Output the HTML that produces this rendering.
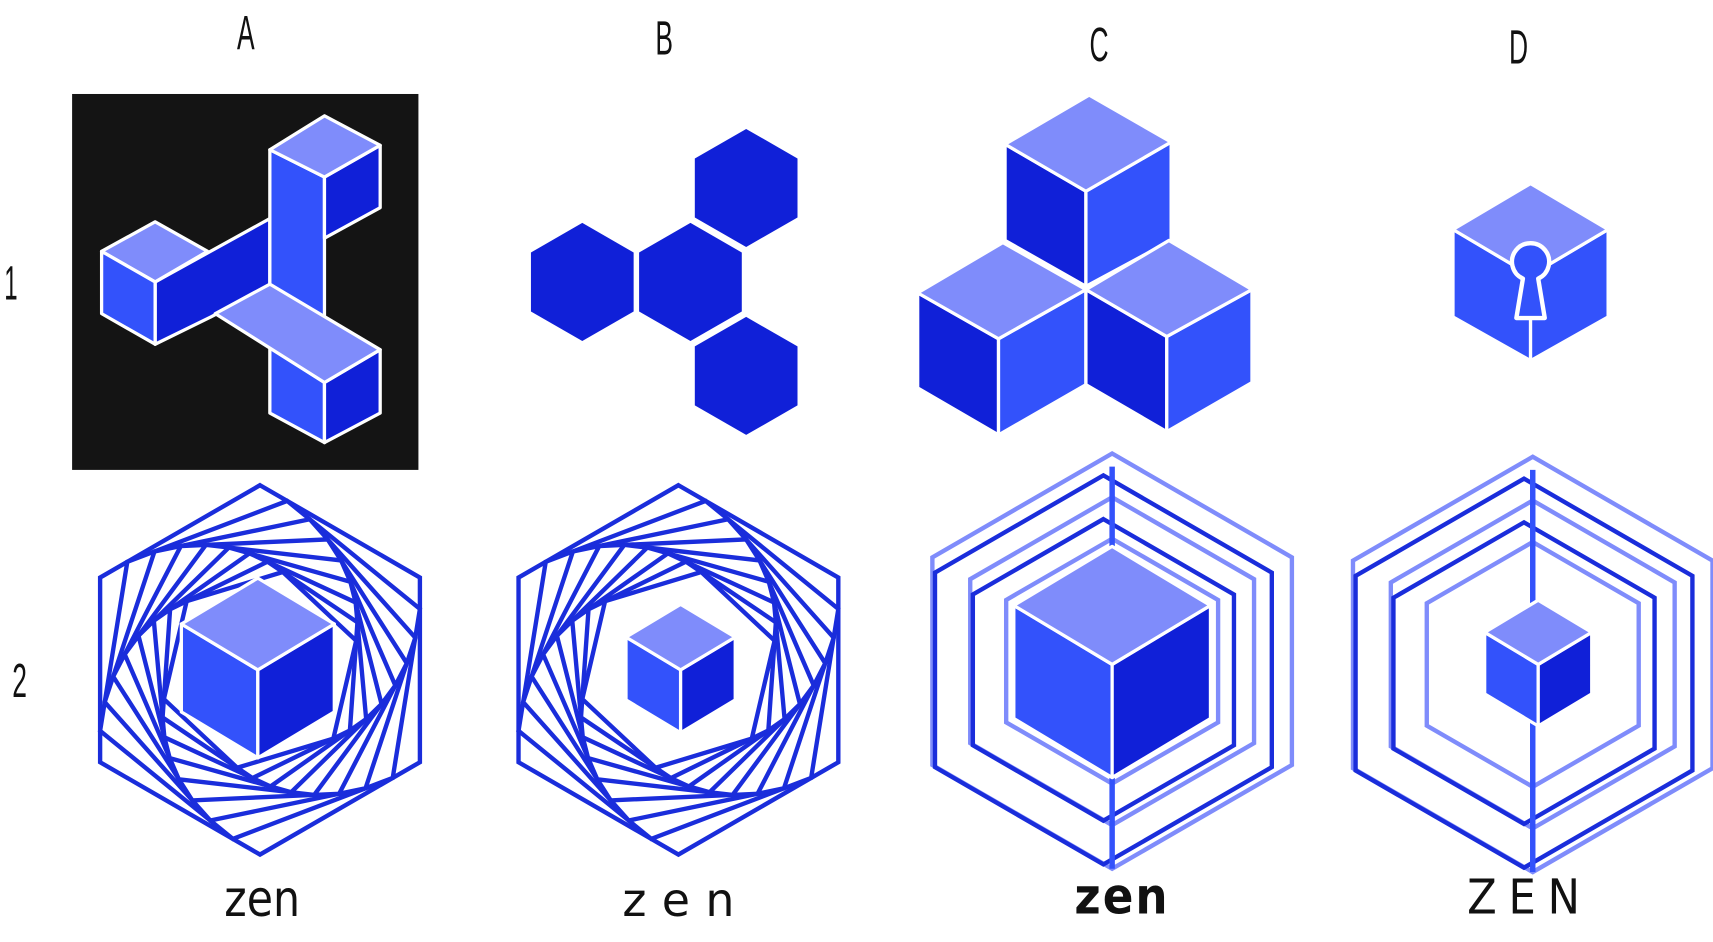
<!DOCTYPE html>
<html><head><meta charset="utf-8"><style>
html,body{margin:0;padding:0;background:#fff;width:1713px;height:942px;overflow:hidden}
svg{display:block}
.lbl{font-family:"Liberation Sans",sans-serif;font-size:44px;fill:#111}
.zen{font-family:"DejaVu Sans","Liberation Sans",sans-serif;fill:#111}
</style></head><body>
<svg id="s" width="1713" height="942" viewBox="0 0 1568 862" preserveAspectRatio="none">
<g>
<text class="lbl" x="225" y="45" text-anchor="middle" transform="translate(225 0) scale(0.55 1) translate(-225 0)">A</text>
<text class="lbl" x="608" y="50" text-anchor="middle" transform="translate(608 0) scale(0.55 1) translate(-608 0)">B</text>
<text class="lbl" x="1006" y="56" text-anchor="middle" transform="translate(1006 0) scale(0.55 1) translate(-1006 0)">C</text>
<text class="lbl" x="1390" y="58" text-anchor="middle" transform="translate(1390 0) scale(0.55 1) translate(-1390 0)">D</text>
<text class="lbl" x="10" y="274" text-anchor="middle" transform="translate(10 0) scale(0.5 1) translate(-10 0)">1</text>
<text class="lbl" x="18" y="638" text-anchor="middle" transform="translate(18 0) scale(0.55 1) translate(-18 0)">2</text>
</g>
<g stroke="#fff" stroke-width="3" stroke-linejoin="round">
<rect x="66" y="86" width="317" height="344" fill="#141414" stroke="none"/>
<polygon points="142,258 247,200 247,262 193,290 142,315" fill="#1020d8"/>
<polygon points="93,230 142,203 190,230 142,258" fill="#7f8cfb"/>
<polygon points="93,230 142,258 142,315 93,287" fill="#3352fb"/>
<polygon points="247,137 297,162 297,290 247,262" fill="#3352fb"/>
<polygon points="297,162 348,133 348,190 297,218" fill="#1020d8"/>
<polygon points="247,137 297,106 348,133 297,162" fill="#7f8cfb"/>
<polygon points="247,318 297,350 297,405 247,378" fill="#3352fb"/>
<polygon points="297,350 348,320 348,378 297,405" fill="#1020d8"/>
<polygon points="197,287 247,260 348,320 297,350" fill="#7f8cfb"/>
</g>
<g fill="#1020d8">
<polygon points="533,204 580,231 580,285 533,312 486,285 486,231"/>
<polygon points="632,204 679,231 679,285 632,312 585,285 585,231"/>
<polygon points="683,118 730,145 730,199 683,226 636,199 636,145"/>
<polygon points="683,290 730,317 730,371 683,398 636,371 636,317"/>
</g>
<g stroke="#fff" stroke-width="3" stroke-linejoin="round">
<polygon points="920,132 994,175 994,262 920,220" fill="#1020d8"/>
<polygon points="994,175 1072,130 1072,220 994,262" fill="#3352fb"/>
<polygon points="920,132 997,87 1072,130 994,175" fill="#7f8cfb"/>
<polygon points="840,268 914,310 914,398 840,355" fill="#1020d8"/>
<polygon points="914,310 994,265 994,352 914,398" fill="#3352fb"/>
<polygon points="840,268 918,222 994,265 914,310" fill="#7f8cfb"/>
<polygon points="994,265 1068,308 1068,395 994,352" fill="#1020d8"/>
<polygon points="1068,308 1146,265 1146,350 1068,395" fill="#3352fb"/>
<polygon points="994,265 1070,220 1146,265 1068,308" fill="#7f8cfb"/>
</g>
<g stroke="#fff" stroke-width="3" stroke-linejoin="round">
<polygon points="1330,210 1401,252 1401,330 1330,290" fill="#3352fb"/>
<polygon points="1401,252 1472,210 1472,290 1401,330" fill="#3352fb"/>
<polygon points="1330,210 1401,168 1472,210 1401,252" fill="#7f8cfb"/>
<path d="M1394,255 A17,17 0 1 1 1408,255 L1414,291 L1388,291 Z" fill="#3352fb" stroke-width="4"/>
</g>
<g id="spirals"></g>
<g id="nested"></g>
<g id="cubes2" stroke="#fff" stroke-width="3" stroke-linejoin="round"></g>
<g>
<text class="zen" x="240" y="838" font-size="46" text-anchor="middle" transform="translate(240 0) scale(0.85 1) translate(-240 0)">zen</text>
<text class="zen" x="628" y="838" font-size="42" text-anchor="middle" letter-spacing="14">zen</text>
<text class="zen" x="1027" y="836" font-size="46" font-weight="bold" text-anchor="middle" letter-spacing="2" transform="translate(1027 0) scale(0.9 1) translate(-1027 0)">zen</text>
<text class="zen" x="1400" y="836" font-size="44" text-anchor="middle" letter-spacing="12" transform="translate(1400 0) scale(0.9 1) translate(-1400 0)">ZEN</text>
</g>
</svg>
<script>
const NS="http://www.w3.org/2000/svg";
const spiralCenters=[[238,613],[621,613]];
const spiralSteps=[8,8];
const spiralFrac=[0.17,0.17];
const nestedCenters=[[1018,605],[1403,608]];
const nestedRadii=[190,178,150,138,112];
const nestedColors=["#7f8cfb","#1a2ddb","#7f8cfb","#1a2ddb","#7f8cfb"];
const cubeCenters=[[236,613],[623,613],[1018,608],[1408,608]];
const cubeSizes=[70,50,90,49];
function hex(cx,cy,r){const p=[];for(let i=0;i<6;i++){const a=-Math.PI/2+i*Math.PI/3;p.push([cx+r*Math.cos(a),cy+r*Math.sin(a)]);}return p;}
function poly(parent,pts,attrs){const e=document.createElementNS(NS,"polygon");e.setAttribute("points",pts.map(p=>p.join(",")).join(" "));for(const k in attrs)e.setAttribute(k,attrs[k]);parent.appendChild(e);return e;}
const sp=document.getElementById("spirals");
spiralCenters.forEach((c,i)=>{
  const g=document.createElementNS(NS,"g");
  
  
  sp.appendChild(g);
  let pts=hex(c[0],c[1],169);
  for(let s=0;s<=spiralSteps[i];s++){
    const e=poly(g,pts,{fill:"none",stroke:"#1a2ddb","stroke-width":4,"stroke-linejoin":"miter"});
    
    
    const f=spiralFrac[i];
    pts=pts.map((p,k)=>{const q=pts[(k+1)%6];return [p[0]+f*(q[0]-p[0]),p[1]+f*(q[1]-p[1])];});
  }
});
const ns=document.getElementById("nested");
nestedCenters.forEach((c,i)=>{
  const g=document.createElementNS(NS,"g");
  
  
  ns.appendChild(g);
  nestedRadii.forEach((r,j)=>{
    const off=(j%2)?8:0;
    const e=poly(g,hex(c[0]-off,c[1]+off,r),{fill:"none",stroke:nestedColors[j],"stroke-width":4});
    
    
  });
  const l=document.createElementNS(NS,"line");
  l.setAttribute("x1",c[0]);l.setAttribute("x2",c[0]);l.setAttribute("y1",c[1]-178);l.setAttribute("y2",c[1]+190);
  l.setAttribute("stroke","#3352fb");l.setAttribute("stroke-width",5);
  
  
  g.appendChild(l);
});
const cb=document.getElementById("cubes2");
cubeCenters.forEach((c,i)=>{
  const s=cubeSizes[i],x=c[0],y=c[1],h=s*0.6;
  const g=document.createElementNS(NS,"g");
  
  
  cb.appendChild(g);
  poly(g,[[x-s,y-h],[x,y],[x,y+s*1.15],[x-s,y+s*1.15-h]],{fill:"#3352fb"});
  poly(g,[[x,y],[x+s,y-h],[x+s,y+s*1.15-h],[x,y+s*1.15]],{fill:"#1020d8"});
  poly(g,[[x-s,y-h],[x,y-2*h],[x+s,y-h],[x,y]],{fill:"#7f8cfb"});
});
</script>
</body></html>
